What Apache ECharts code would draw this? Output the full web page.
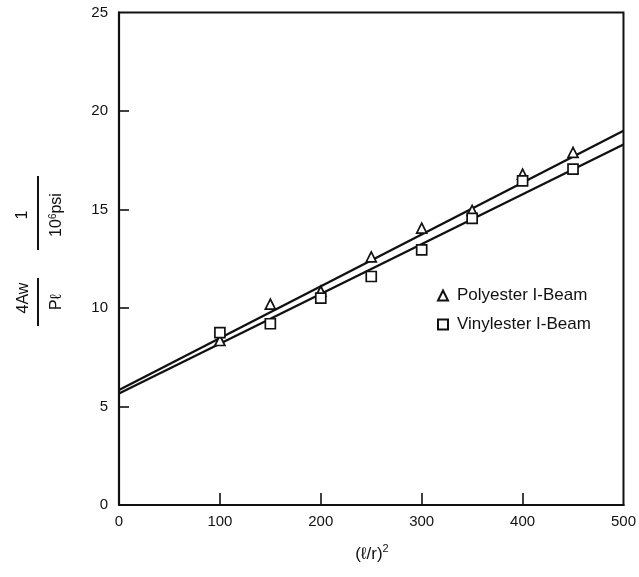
<!DOCTYPE html>
<html>
<head>
<meta charset="utf-8">
<script src="https://cdn.jsdelivr.net/npm/echarts@6/dist/echarts.min.js"></script>
<style>html,body{margin:0;padding:0;background:#fff}#c{width:639px;height:577px}</style>
</head>
<body>
<div id="c"></div>
<script>
var xValues = [100, 150, 200, 250, 300, 350, 400, 450];
var polyesterValues = [8.35, 10.2, 10.85, 12.6, 14.05, 14.95, 16.8, 17.9];
var vinylesterValues = [8.75, 9.2, 10.5, 11.6, 12.95, 14.55, 16.45, 17.05];
var polyesterFit = [[0, 5.84], [500, 19.0]];
var vinylesterFit = [[0, 5.66], [500, 18.3]];
var xTicks = [0, 100, 200, 300, 400, 500];
var xInnerTicks = [100, 200, 300, 400];
var yTicks = [0, 5, 10, 15, 20, 25];
var yInnerTicks = [5, 10, 15, 20];
var seriesNames = ['Polyester I-Beam', 'Vinylester I-Beam'];

function pairs(xs, ys) { return xs.map(function (x, i) { return [x, ys[i]]; }); }

var font = '"Liberation Sans", Arial, sans-serif';
var chart = echarts.init(document.getElementById('c'));
chart.setOption({
  animation: false,
  backgroundColor: '#fff',
  grid: { left: 119, right: 13, top: 12.5, bottom: 72, show: true, borderColor: '#111', borderWidth: 2, backgroundColor: 'transparent' },
  xAxis: {
    type: 'value', min: xTicks[0], max: xTicks[xTicks.length - 1], interval: 100,
    axisLine: { lineStyle: { color: '#111', width: 2.2 } },
    axisTick: { inside: true, length: 12, customValues: xInnerTicks, lineStyle: { color: '#111', width: 1.6 } },
    splitLine: { show: false },
    axisLabel: { color: '#111', fontSize: 15, fontFamily: font, margin: 9 }
  },
  yAxis: {
    type: 'value', min: yTicks[0], max: yTicks[yTicks.length - 1], interval: 5,
    axisLine: { lineStyle: { color: '#111', width: 2.2 } },
    axisTick: { inside: true, length: 10, customValues: yInnerTicks, lineStyle: { color: '#111', width: 1.6 } },
    splitLine: { show: false },
    axisLabel: { color: '#111', fontSize: 15, fontFamily: font, margin: 11 }
  },
  legend: {
    data: [
      { name: seriesNames[0], icon: 'triangle' },
      { name: seriesNames[1], icon: 'rect' }
    ],
    orient: 'vertical', left: 432, top: 282, itemWidth: 10, itemHeight: 10, itemGap: 12,
    textStyle: { color: '#111', fontSize: 17, fontFamily: font, padding: [0, 0, 0, 4] }
  },
  series: [
    {
      name: seriesNames[0], type: 'scatter', data: pairs(xValues, polyesterValues),
      symbol: 'triangle', symbolSize: 10,
      itemStyle: { color: '#fff', borderColor: '#111', borderWidth: 1.7, opacity: 1 }, z: 5
    },
    {
      name: seriesNames[1], type: 'scatter', data: pairs(xValues, vinylesterValues),
      symbol: 'rect', symbolSize: 10,
      itemStyle: { color: '#fff', borderColor: '#111', borderWidth: 1.7, opacity: 1 }, z: 5
    },
    {
      name: 'polyester fit', type: 'line', data: polyesterFit, showSymbol: false, symbol: 'none',
      lineStyle: { color: '#111', width: 2.4 }, z: 3
    },
    {
      name: 'vinylester fit', type: 'line', data: vinylesterFit, showSymbol: false, symbol: 'none',
      lineStyle: { color: '#111', width: 2.4 }, z: 3
    }
  ],
  graphic: [
    { type: 'text', x: 24, y: 298, rotation: Math.PI / 2, style: { text: '4Aw', font: '16px ' + font, fill: '#111', align: 'center', verticalAlign: 'middle' } },
    { type: 'line', shape: { x1: 38, y1: 278, x2: 38, y2: 326 }, style: { stroke: '#111', lineWidth: 2 } },
    { type: 'text', x: 57, y: 302, rotation: Math.PI / 2, style: { text: 'P\u2113', font: '16px ' + font, fill: '#111', align: 'center', verticalAlign: 'middle' } },
    { type: 'text', x: 23, y: 215, rotation: Math.PI / 2, style: { text: '1', font: '16px ' + font, fill: '#111', align: 'center', verticalAlign: 'middle' } },
    { type: 'line', shape: { x1: 38, y1: 176, x2: 38, y2: 250 }, style: { stroke: '#111', lineWidth: 2 } },
    { type: 'text', x: 57, y: 215, rotation: Math.PI / 2, style: {
        text: '10{s|6}psi', font: '16px ' + font, fill: '#111', align: 'center', verticalAlign: 'middle',
        rich: { s: { fontSize: 10, fontFamily: font, verticalAlign: 'top', padding: [0, 0, 8, 0] } }
      } },
    { type: 'text', x: 372, y: 554, style: {
        text: '(\u2113/r){s|2}', font: '17px ' + font, fill: '#111', align: 'center', verticalAlign: 'middle',
        rich: { s: { fontSize: 11, fontFamily: font, padding: [0, 0, 10, 0] } }
      } }
  ]
});
</script>
</body>
</html>
